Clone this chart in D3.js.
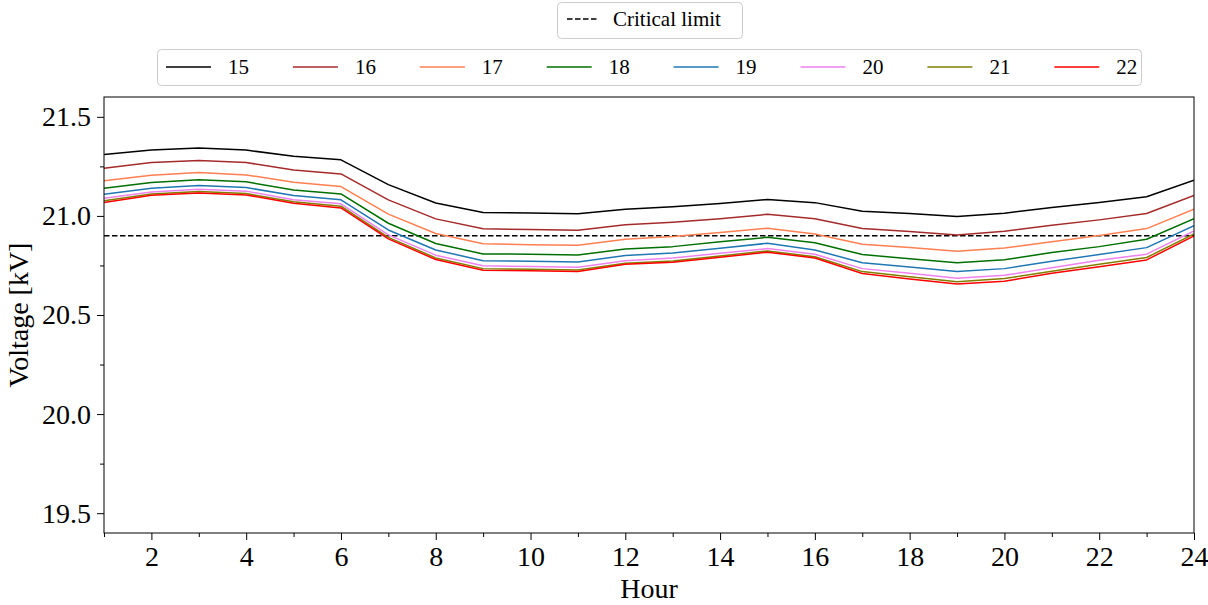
<!DOCTYPE html>
<html><head><meta charset="utf-8">
<script src="https://cdn.jsdelivr.net/npm/d3@7"></script>
<style>body{margin:0;background:#fff}svg{display:block}text{font-family:"Liberation Serif","DejaVu Serif",serif;fill:#000}</style>
</head><body><svg id="chart" width="1208" height="605"></svg>
<script>
const hours = d3.range(1, 25);
const xTicks = [2,4,6,8,10,12,14,16,18,20,22,24];
const yTicks = [19.5, 20.0, 20.5, 21.0, 21.5];
const criticalLimit = 20.9;
const seriesNames = ["15","16","17","18","19","20","21","22"];
const seriesColors = ["#000000","#a52a2a","#ff7f50","#007000","#1f77b4","#ee82ee","#808000","#ff0000"];
const v15 = [21.310,21.333,21.343,21.332,21.301,21.283,21.158,21.065,21.017,21.015,21.011,21.034,21.046,21.062,21.083,21.067,21.023,21.012,20.997,21.014,21.043,21.068,21.097,21.180];
const v16 = [21.241,21.269,21.279,21.269,21.232,21.212,21.081,20.985,20.935,20.931,20.928,20.955,20.968,20.986,21.008,20.986,20.936,20.921,20.904,20.923,20.953,20.980,21.012,21.103];
const v17 = [21.178,21.205,21.219,21.207,21.170,21.148,21.009,20.911,20.859,20.855,20.852,20.882,20.896,20.916,20.938,20.909,20.857,20.840,20.822,20.838,20.870,20.901,20.936,21.034];
const v18 = [21.140,21.168,21.182,21.172,21.131,21.111,20.963,20.861,20.808,20.807,20.803,20.833,20.845,20.869,20.892,20.865,20.805,20.784,20.764,20.779,20.815,20.845,20.882,20.986];
const v19 = [21.109,21.140,21.153,21.143,21.103,21.081,20.929,20.828,20.774,20.771,20.768,20.800,20.813,20.837,20.862,20.828,20.764,20.742,20.719,20.734,20.771,20.805,20.840,20.951];
const v20 = [21.089,21.121,21.135,21.125,21.082,21.061,20.904,20.802,20.748,20.745,20.741,20.774,20.788,20.811,20.835,20.807,20.734,20.711,20.685,20.700,20.739,20.776,20.807,20.924];
const v21 = [21.077,21.111,21.123,21.113,21.071,21.049,20.892,20.788,20.734,20.731,20.727,20.761,20.773,20.798,20.823,20.794,20.719,20.693,20.668,20.684,20.721,20.756,20.790,20.909];
const v22 = [21.067,21.104,21.116,21.106,21.064,21.040,20.884,20.780,20.726,20.723,20.719,20.756,20.766,20.791,20.817,20.788,20.709,20.682,20.657,20.670,20.711,20.744,20.778,20.899];
const seriesValues = [v15,v16,v17,v18,v19,v20,v21,v22];

const svg = d3.select("#chart");
const L = 104, R = 1194, T = 97, B = 533;
const x = d3.scaleLinear().domain([1, 24]).range([L, R]);
const y = d3.scaleLinear().domain([19.4, 21.6]).range([B, T]);

svg.append("defs").append("clipPath").attr("id","clip")
  .append("rect").attr("x",L).attr("y",T).attr("width",R-L).attr("height",B-T);

// axes
const xAxis = svg.append("g").attr("transform",`translate(0,${B})`)
  .call(d3.axisBottom(x).tickValues(xTicks).tickFormat(d3.format("d")).tickSize(7).tickPadding(6));
const xMinor = svg.append("g").attr("transform",`translate(0,${B})`)
  .call(d3.axisBottom(x).tickValues(d3.range(1,24,2)).tickFormat("").tickSize(4));
const yAxis = svg.append("g").attr("transform",`translate(${L},0)`)
  .call(d3.axisLeft(y).tickValues(yTicks).tickFormat(d3.format(".1f")).tickSize(7).tickPadding(6));
const yMinor = svg.append("g").attr("transform",`translate(${L},0)`)
  .call(d3.axisLeft(y).tickValues([19.75,20.25,20.75,21.25]).tickFormat("").tickSize(4));
[xAxis,xMinor,yAxis,yMinor].forEach(g=>{
  g.select(".domain").remove();
  g.selectAll(".tick line").attr("stroke","#000").attr("stroke-width",1);
  g.selectAll(".tick text").attr("font-size",28).style("font-family",'"Liberation Serif",serif');
});

// critical limit
svg.append("line").attr("x1",L).attr("x2",R).attr("y1",y(criticalLimit)).attr("y2",y(criticalLimit))
  .attr("stroke","#000").attr("stroke-width",1.6).attr("stroke-dasharray","5.5,2.5");

const line = d3.line().x((d,i)=>x(hours[i])).y(d=>y(d));
const lg = svg.append("g").attr("clip-path","url(#clip)");
seriesValues.forEach((vals,k)=>{
  lg.append("path").attr("d",line(vals)).attr("fill","none")
    .attr("stroke",seriesColors[k]).attr("stroke-width",1.5).attr("stroke-linejoin","round");
});

// frame
svg.append("rect").attr("x",L).attr("y",T).attr("width",R-L).attr("height",B-T)
  .attr("fill","none").attr("stroke","#000").attr("stroke-width",1);

// axis titles
svg.append("text").attr("x",(L+R)/2).attr("y",598).attr("text-anchor","middle").attr("font-size",28).text("Hour");
svg.append("text").attr("transform",`translate(28,${(T+B)/2}) rotate(-90)`).attr("text-anchor","middle").attr("font-size",28).text("Voltage [kV]");

// legend 1: critical limit
svg.append("rect").attr("x",557.5).attr("y",2.5).attr("width",185).attr("height",36).attr("rx",4)
  .attr("fill","#fff").attr("fill-opacity",0.8).attr("stroke","#cccccc");
svg.append("line").attr("x1",567).attr("x2",597).attr("y1",19).attr("y2",19)
  .attr("stroke","#000").attr("stroke-width",1.6).attr("stroke-dasharray","5.5,2.5");
svg.append("text").attr("x",613).attr("y",26).attr("font-size",21).text("Critical limit");

// legend 2: series
svg.append("rect").attr("x",157.5).attr("y",49.5).attr("width",984).attr("height",36).attr("rx",4)
  .attr("fill","#fff").attr("fill-opacity",0.8).attr("stroke","#cccccc");
seriesNames.forEach((nm,k)=>{
  const x0 = 166 + k*126.9;
  svg.append("line").attr("x1",x0).attr("x2",x0+45).attr("y1",67).attr("y2",67)
    .attr("stroke",seriesColors[k]).attr("stroke-width",1.5);
  svg.append("text").attr("x",x0+62).attr("y",74).attr("font-size",21).text(nm);
});
</script></body></html>
